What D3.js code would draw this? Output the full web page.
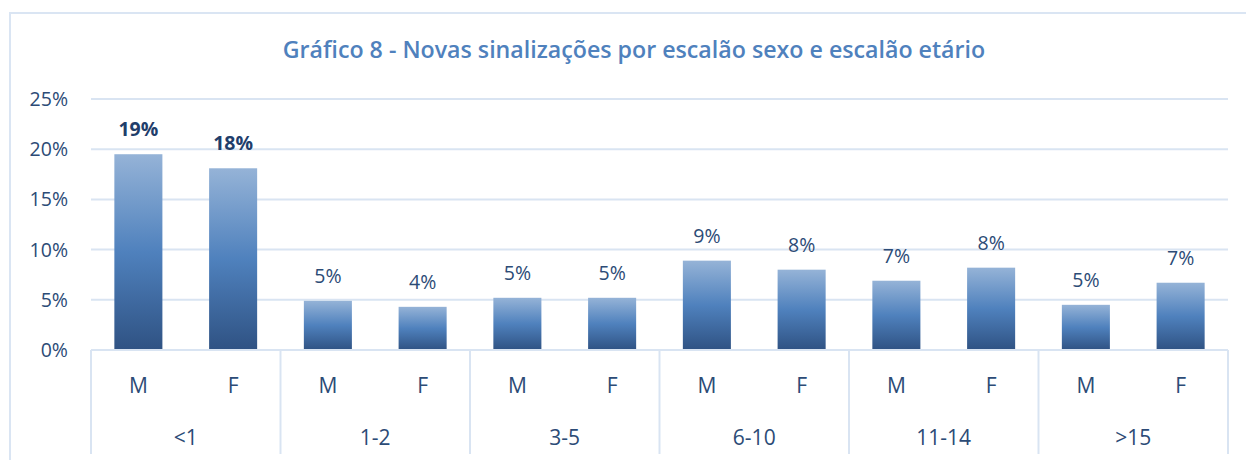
<!DOCTYPE html>
<html>
<head>
<meta charset="utf-8">
<script src="https://cdn.jsdelivr.net/npm/d3@7"></script>
<style>
  html, body { margin: 0; padding: 0; background: #fff; }
  svg { display: block; font-family: "Open Sans", "Noto Sans", sans-serif; }
</style>
</head>
<body>
<div id="chart"></div>
<script>
const groups = ['<1', '1-2', '3-5', '6-10', '11-14', '>15'];
const sexes = ['M', 'F'];
const valuesM = [19.5, 4.9, 5.2, 8.9, 6.9, 4.5];
const valuesF = [18.1, 4.3, 5.2, 8.0, 8.2, 6.7];
const labelsM = ['19%', '5%', '5%', '9%', '7%', '5%'];
const labelsF = ['18%', '4%', '5%', '8%', '8%', '7%'];
const boldLabels = ['19%|<1|M', '18%|<1|F'];
const yTicks = [0, 5, 10, 15, 20, 25];
const title = 'Gráfico 8 - Novas sinalizações por escalão sexo e escalão etário';

const width = 1246, height = 460;
const plot = { left: 91, right: 1228, top: 99, bottom: 350, axisBottom: 454 };

const rows = [];
groups.forEach((g, i) => {
  rows.push({ group: g, sex: 'M', value: valuesM[i], label: labelsM[i] });
  rows.push({ group: g, sex: 'F', value: valuesF[i], label: labelsF[i] });
});

const svg = d3.select('#chart').append('svg')
  .attr('width', width)
  .attr('height', height);

// bar gradient
const grad = svg.append('defs').append('linearGradient')
  .attr('id', 'barGrad')
  .attr('x1', 0).attr('y1', 0).attr('x2', 0).attr('y2', 1);
grad.append('stop').attr('offset', '0%').attr('stop-color', '#95b3d7');
grad.append('stop').attr('offset', '50%').attr('stop-color', '#4f81bd');
grad.append('stop').attr('offset', '100%').attr('stop-color', '#2f5283');

// outer frame
svg.append('rect')
  .attr('x', 10).attr('y', 13)
  .attr('width', width + 20).attr('height', height + 20)
  .attr('fill', 'none')
  .attr('stroke', '#dae5f3')
  .attr('stroke-width', 2);

svg.append('text')
  .attr('x', 634).attr('y', 58)
  .attr('text-anchor', 'middle')
  .attr('font-size', 23.2)
  .attr('font-weight', 600)
  .attr('fill', '#4f81bd')
  .text(title);

const x0 = d3.scaleBand().domain(groups).range([plot.left, plot.right]);
const x1 = d3.scaleBand().domain(sexes).range([0, x0.bandwidth()])
  .paddingInner(0.493).paddingOuter(0.2465);
const y = d3.scaleLinear().domain([0, 25]).range([plot.bottom, plot.top]);

// gridlines
svg.append('g').selectAll('line')
  .data(yTicks.filter(t => t > 0))
  .join('line')
  .attr('x1', plot.left).attr('x2', plot.right)
  .attr('y1', d => y(d)).attr('y2', d => y(d))
  .attr('stroke', '#d9e4f2')
  .attr('stroke-width', 2);

// y labels
svg.append('g').selectAll('text')
  .data(yTicks)
  .join('text')
  .attr('x', 68)
  .attr('y', d => y(d))
  .attr('dy', '0.36em')
  .attr('text-anchor', 'end')
  .attr('font-size', 19.5)
  .attr('fill', '#2c4b76')
  .text(d => d + '%');

// bars
const bars = svg.append('g').selectAll('g')
  .data(rows)
  .join('g')
  .attr('transform', d => `translate(${x0(d.group) + x1(d.sex)},0)`);

bars.append('rect')
  .attr('x', 0)
  .attr('width', x1.bandwidth())
  .attr('y', d => y(d.value))
  .attr('height', d => y(0) - y(d.value))
  .attr('fill', 'url(#barGrad)');

bars.append('text')
  .attr('x', x1.bandwidth() / 2)
  .attr('y', d => y(d.value) - 18)
  .attr('text-anchor', 'middle')
  .attr('font-size', 19.5)
  .attr('font-weight', d => boldLabels.includes(`${d.label}|${d.group}|${d.sex}`) ? 700 : 400)
  .attr('fill', d => boldLabels.includes(`${d.label}|${d.group}|${d.sex}`) ? '#1f3e6b' : '#2c4b76')
  .text(d => d.label);

// category axis
const axis = svg.append('g');
axis.append('line')
  .attr('x1', plot.left).attr('x2', plot.right)
  .attr('y1', plot.bottom).attr('y2', plot.bottom)
  .attr('stroke', '#d9e4f2').attr('stroke-width', 2);

axis.selectAll('line.sep')
  .data(groups.map(g => x0(g)).concat([plot.right]))
  .join('line')
  .attr('class', 'sep')
  .attr('x1', d => d).attr('x2', d => d)
  .attr('y1', plot.bottom).attr('y2', plot.axisBottom)
  .attr('stroke', '#d9e4f2').attr('stroke-width', 2);

axis.selectAll('text.sex')
  .data(rows)
  .join('text')
  .attr('class', 'sex')
  .attr('x', d => x0(d.group) + x1(d.sex) + x1.bandwidth() / 2)
  .attr('y', 393)
  .attr('text-anchor', 'middle')
  .attr('font-size', 21)
  .attr('fill', '#2c4b76')
  .text(d => d.sex);

axis.selectAll('text.grp')
  .data(groups)
  .join('text')
  .attr('class', 'grp')
  .attr('x', d => x0(d) + x0.bandwidth() / 2)
  .attr('y', 445)
  .attr('text-anchor', 'middle')
  .attr('font-size', 21)
  .attr('fill', '#2c4b76')
  .text(d => d);
</script>
</body>
</html>
